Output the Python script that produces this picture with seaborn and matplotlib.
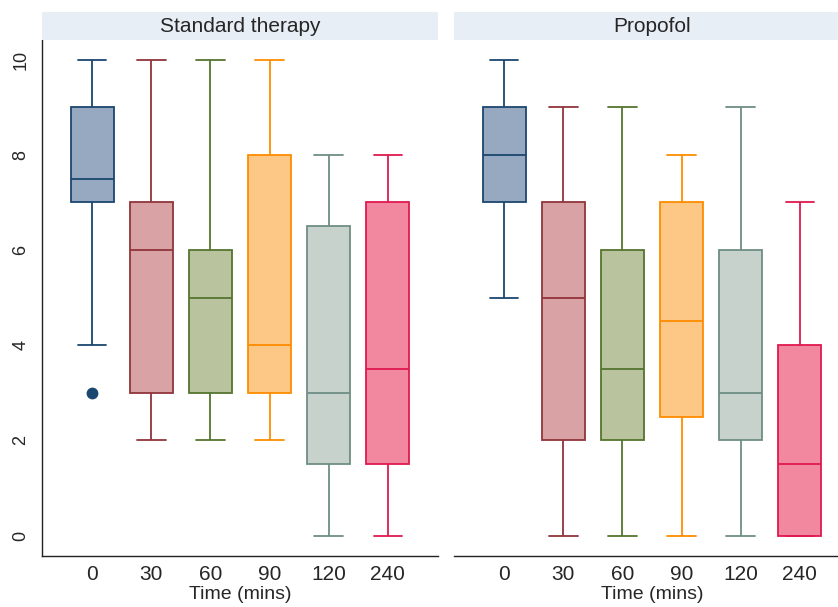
import pandas as pd
import seaborn as sns
import matplotlib.pyplot as plt
from matplotlib.patches import Rectangle

times = ["0", "30", "60", "90", "120", "240"]
panels = ["Standard therapy", "Propofol"]

# five-number summaries: min, q1, median, q3, max
std_min = [4, 2, 2, 2, 0, 0]
std_q1 = [7, 3, 3, 3, 1.5, 1.5]
std_med = [7.5, 6, 5, 4, 3, 3.5]
std_q3 = [9, 7, 6, 8, 6.5, 7]
std_max = [10, 10, 10, 10, 8, 8]
std_out_time = ["0"]
std_out_score = [3]

pro_min = [5, 0, 0, 0, 0, 0]
pro_q1 = [7, 2, 2, 2.5, 2, 0]
pro_med = [8, 5, 3.5, 4.5, 3, 1.5]
pro_q3 = [9, 7, 6, 7, 6, 4]
pro_max = [10, 9, 9, 8, 9, 7]
pro_out_time = []
pro_out_score = []

edge_colors = ["#1a476f", "#90353b", "#55752f", "#ff8c00", "#6e8e84", "#e0194e"]
fill_colors = ["#97a9c1", "#d9a3a6", "#b9c49f", "#fdc885", "#c8d2cd", "#f2889f"]

rows = []
for panel, stats in zip(panels, [(std_min, std_q1, std_med, std_q3, std_max),
                                 (pro_min, pro_q1, pro_med, pro_q3, pro_max)]):
    for i, t in enumerate(times):
        for s in stats:
            rows.append({"panel": panel, "time": t, "score": s[i]})
df = pd.DataFrame(rows)
outliers = {"Standard therapy": (std_out_time, std_out_score),
            "Propofol": (pro_out_time, pro_out_score)}

sns.set_style("white")
plt.rcParams["font.family"] = ["Liberation Sans", "DejaVu Sans"]

W, H = 838, 607
fig = plt.figure(figsize=(W / 100, H / 100), dpi=100)
bottom = (H - 555.7) / H
height = (555.7 - 40) / H
lefts = [42, 454]
width = 396

for k, panel in enumerate(panels):
    ax = fig.add_axes([lefts[k] / W, bottom, width / W, height])
    sub = df[df["panel"] == panel]
    for i, t in enumerate(times):
        sns.boxplot(data=sub[sub["time"] == t], x="time", y="score", order=times,
                    color=fill_colors[i], linecolor=edge_colors[i], saturation=1,
                    whis=(0, 100), width=0.73, linewidth=1.3, capwidths=0.48, ax=ax)
    ot, os_ = outliers[panel]
    if ot:
        sns.stripplot(x=ot, y=os_, order=times, jitter=False, color=edge_colors[0],
                      size=8.5, ax=ax)
    ax.set_xlim(-0.85, 5.85)
    ax.set_ylim(-0.42, 10.41)
    ax.set_xlabel("Time (mins)", fontsize=14, labelpad=1)
    ax.set_ylabel("")
    ax.tick_params(axis="x", length=0, pad=7, labelsize=15)
    for s in ["top", "right"]:
        ax.spines[s].set_visible(False)
    ax.spines["bottom"].set_color("#222222")
    ax.spines["bottom"].set_linewidth(1.0)
    if k == 0:
        ax.set_yticks([0, 2, 4, 6, 8, 10])
        ax.tick_params(axis="y", length=5, pad=4, labelsize=13, color="#222222")
        for lab in ax.get_yticklabels():
            lab.set_rotation(90)
            lab.set_va("center")
        ax.spines["left"].set_color("#222222")
        ax.spines["left"].set_linewidth(1.0)
    else:
        ax.set_yticks([])
        ax.spines["left"].set_visible(False)

    fig.add_artist(Rectangle((lefts[k] / W, (H - 40) / H), width / W, 28 / H,
                             transform=fig.transFigure, color="#e8eef6", lw=0))
    fig.text((lefts[k] + width / 2) / W, (H - 26) / H, panel, ha="center", va="center",
             fontsize=15)

fig.savefig("out.png", dpi=100)
